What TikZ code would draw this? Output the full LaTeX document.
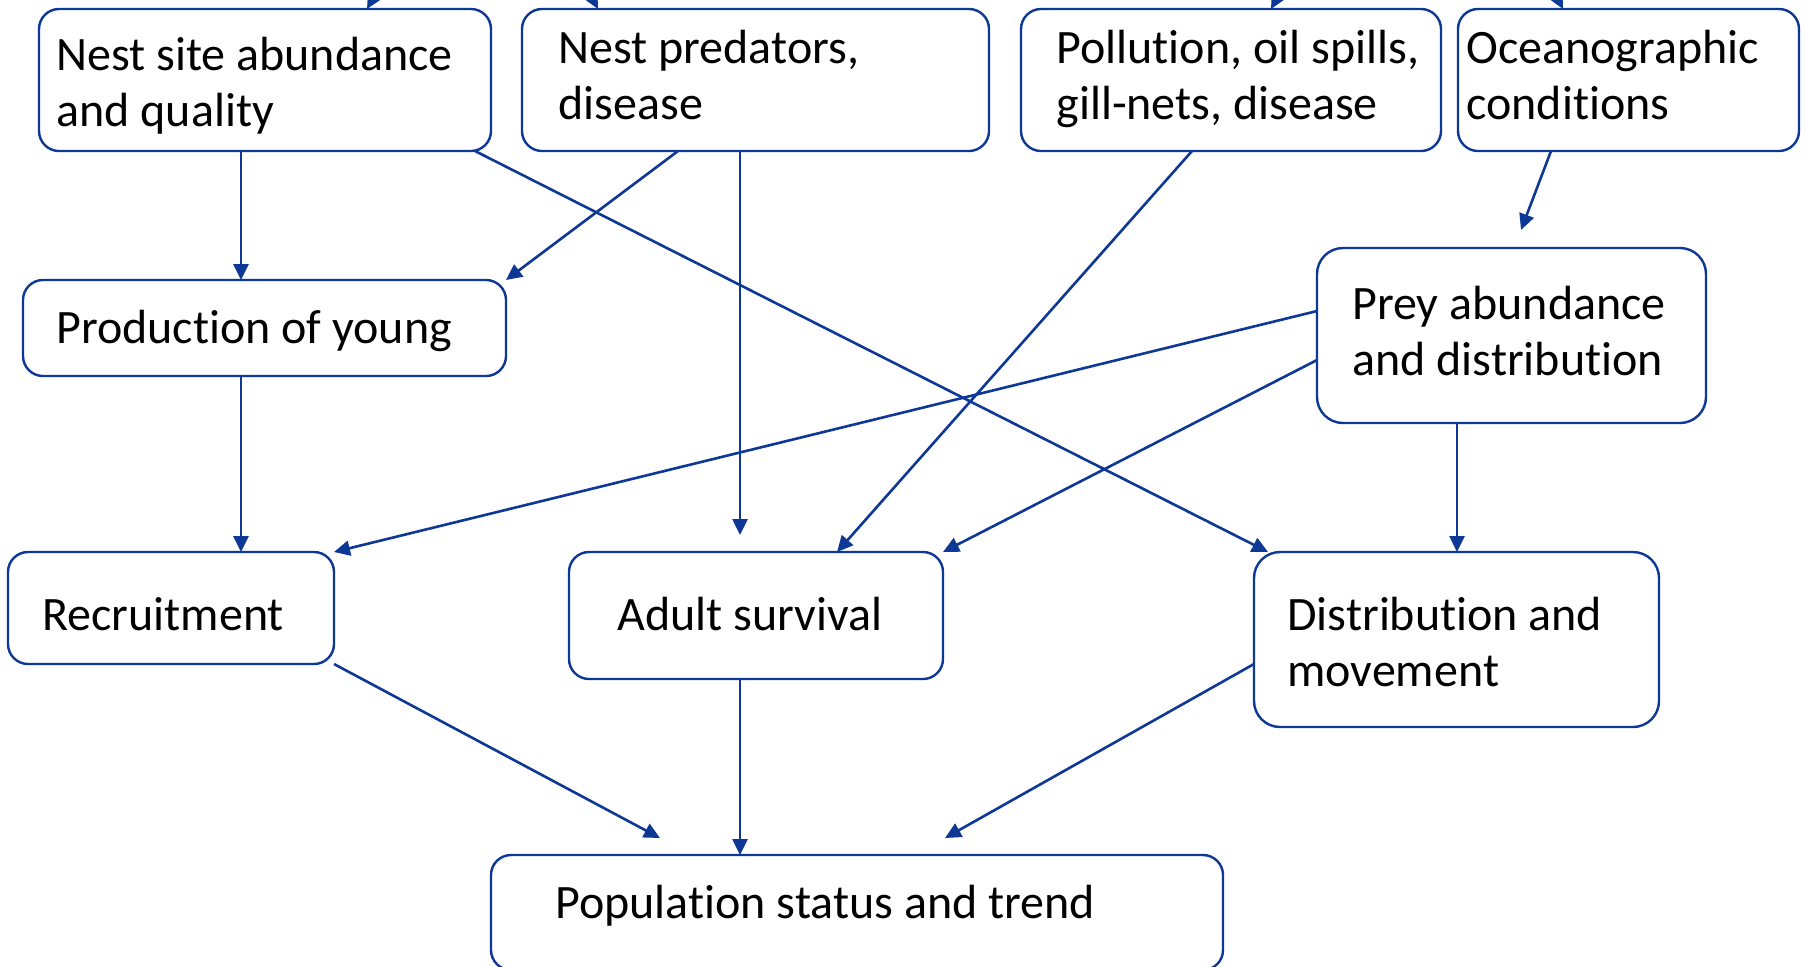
\documentclass[tikz,border=0pt]{standalone}
\usepackage{fontspec}
\setmainfont{Carlito}[Ligatures=CommonOff]
\usetikzlibrary{arrows.meta}
\definecolor{lineblue}{RGB}{14,56,150}
\begin{document}
\begin{tikzpicture}[x=0.5pt,y=-0.5pt,
  box/.style={draw=lineblue, line width=1.2pt, rounded corners=10pt, fill=white, inner sep=0pt, outer sep=0pt},
  lbl/.style={anchor=base west, inner sep=0pt, align=left, font=\fontsize{24pt}{28pt}\selectfont},
  conn/.style={draw=lineblue, line width=1.3pt, -{Triangle[length=8pt,width=7.5pt]}}]
\useasboundingbox (0,0) rectangle (1807,966);
\clip (0,0) rectangle (1807,966);
\fill[white] (0,0) rectangle (1807,966);
% boxes
\node[box, minimum width=226pt, minimum height=71pt] (b1) at (265,80) {};
\node[box, minimum width=233.5pt, minimum height=71pt] (b2) at (755.5,80) {};
\node[box, minimum width=210pt, minimum height=71pt] (b3) at (1231,80) {};
\node[box, minimum width=170.5pt, minimum height=71pt] (b4) at (1628.5,80) {};
\node[box, minimum width=241.5pt, minimum height=48pt] (b5) at (264.5,328) {};
\node[box, rounded corners=13pt, minimum width=194.5pt, minimum height=87.5pt] (b6) at (1511.5,335.5) {};
\node[box, minimum width=163pt, minimum height=56pt] (b7) at (171,608) {};
\node[box, minimum width=187pt, minimum height=63.5pt] (b8) at (756,615.5) {};
\node[box, rounded corners=13pt, minimum width=202.5pt, minimum height=87.5pt] (b9) at (1456.5,639.5) {};
\node[box, minimum width=366pt, minimum height=57.5pt] (b10) at (857,912.5) {};
% labels (base = baseline of last line)
\node[lbl] (t1) at (56,126) {Nest site abundance\\and quality};
\node[lbl] (t2) at (558,119) {Nest predators,\\disease};
\node[lbl] (t3) at (1056,119) {Pollution, oil spills,\\gill-nets, disease};
\node[lbl] (t4) at (1466,119) {Oceanographic\\conditions};
\node[lbl] (t5) at (56,343) {Production of young};
\node[lbl] (t6) at (1352,375) {Prey abundance\\and distribution};
\node[lbl] (t7) at (42,630) {Recruitment};
\node[lbl] (t8) at (617,630) {Adult survival};
\node[lbl] (t9) at (1287,686) {Distribution and\\movement};
\node[lbl] (t10) at (555,918) {Population status and trend};
% free ends
\coordinate (u1) at (397,-44);
\coordinate (u2) at (570,-44);
\coordinate (u3) at (1300,-44);
\coordinate (u4) at (1535,-44);
\coordinate (e4) at (740,535);
\coordinate (e6) at (1521,230);
\coordinate (e11) at (660,838);
\coordinate (e13) at (945,838);
% connectors
\draw[conn] (u1) -- (367,0 |- b1.north);
\draw[conn] (u2) -- (598,0 |- b2.north);
\draw[conn] (u3) -- (1271,0 |- b3.north);
\draw[conn] (u4) -- (1563,0 |- b4.north);
\draw[conn] (241,0 |- b1.south) -- (241,0 |- b5.north);
\draw[conn] (678,0 |- b2.south) -- (b5.north east);
\draw[conn] (475,0 |- b1.south) -- (1268,0 |- b9.north);
\draw[conn] (740,0 |- b2.south) -- (e4);
\draw[conn] (1192,0 |- b3.south) -- (837,0 |- b8.north);
\draw[conn] (1551,0 |- b4.south) -- (e6);
\draw[conn] (b6.west |- 0,311) -- (b7.north east);
\draw[conn] (b6.west |- 0,360) -- (b8.north east);
\draw[conn] (1457,0 |- b6.south) -- (1457,0 |- b9.north);
\draw[conn] (241,0 |- b5.south) -- (241,0 |- b7.north);
\draw[conn] (b7.south east) -- (e11);
\draw[conn] (740,0 |- b8.south) -- (740,0 |- b10.north);
\draw[conn] (b9.west |- 0,664) -- (e13);
\end{tikzpicture}
\end{document}
